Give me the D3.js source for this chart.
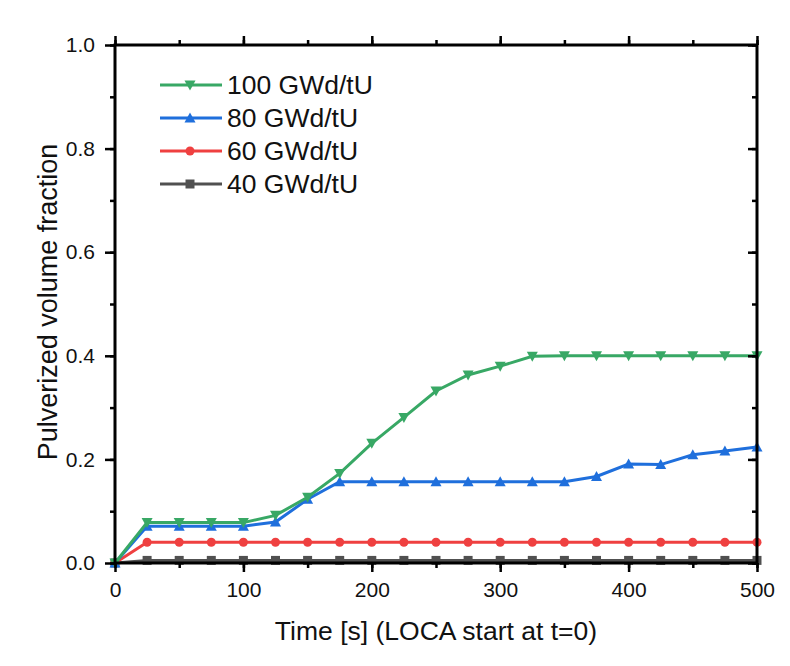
<!DOCTYPE html>
<html><head><meta charset="utf-8">
<script src="https://cdn.jsdelivr.net/npm/d3@7"></script>
<style>body{margin:0;background:#fff}svg text{font-family:"Liberation Sans",Arial,sans-serif;fill:#111}</style>
</head><body><svg id="c" width="790" height="666"></svg>
<script>
const times = [0,25,50,75,100,125,150,175,200,225,250,275,300,325,350,375,400,425,450,475,500];
const s100 = [0,0.078,0.078,0.078,0.078,0.092,0.127,0.173,0.231,0.281,0.332,0.363,0.380,0.399,0.400,0.400,0.400,0.400,0.400,0.400,0.400];
const s80  = [0,0.071,0.071,0.071,0.071,0.079,0.123,0.157,0.157,0.157,0.157,0.157,0.157,0.157,0.157,0.167,0.191,0.190,0.209,0.216,0.224];
const s60  = [0,0.040,0.040,0.040,0.040,0.040,0.040,0.040,0.040,0.040,0.040,0.040,0.040,0.040,0.040,0.040,0.040,0.040,0.040,0.040,0.040];
const s40  = [0,0.005,0.005,0.005,0.005,0.005,0.005,0.005,0.005,0.005,0.005,0.005,0.005,0.005,0.005,0.005,0.005,0.005,0.005,0.005,0.005];
const seriesNames = ["100 GWd/tU","80 GWd/tU","60 GWd/tU","40 GWd/tU"];
const xTicks = [0,100,200,300,400,500];
const yTicks = [0.0,0.2,0.4,0.6,0.8,1.0];

const series = [
  {name:seriesNames[0], vals:s100, color:"#38a865", sym:"down"},
  {name:seriesNames[1], vals:s80,  color:"#1f6fdc", sym:"up"},
  {name:seriesNames[2], vals:s60,  color:"#ef4040", sym:"circle"},
  {name:seriesNames[3], vals:s40,  color:"#505050", sym:"square"}
];
const L=115,R=757,T=45,B=563;
const svg=d3.select("#c");
const x=d3.scaleLinear().domain([0,500]).range([L,R]);
const y=d3.scaleLinear().domain([0,1]).range([B,T]);

function symPath(t){
  if(t==="down") return "M-5.5,-4.5L5.5,-4.5L0,5.5Z";
  if(t==="up") return "M-5.5,4.5L5.5,4.5L0,-5.5Z";
  if(t==="square") return "M-4.5,-4.5L4.5,-4.5L4.5,4.5L-4.5,4.5Z";
  return d3.symbol(d3.symbolCircle,64)();
}
[...series].reverse().forEach(s=>{
  const pts=times.map((t,i)=>[t,s.vals[i]]);
  svg.append("path").datum(pts).attr("fill","none").attr("stroke",s.color).attr("stroke-width",3)
    .attr("d",d3.line().x(d=>x(d[0])).y(d=>y(d[1])));
  svg.append("g").selectAll("path").data(pts).join("path")
    .attr("transform",d=>`translate(${x(d[0])},${y(d[1])})`).attr("d",symPath(s.sym)).attr("fill",s.color);
});

const minorX=d3.range(0,501,50), minorY=d3.range(0,1.0001,0.1);
svg.append("g").attr("transform",`translate(0,${B})`)
  .call(d3.axisBottom(x).tickValues(minorX).tickSize(5).tickFormat(""));
svg.append("g").attr("transform",`translate(0,${B})`)
  .call(d3.axisBottom(x).tickValues(xTicks).tickSize(9).tickPadding(10).tickFormat(d3.format("d")));
svg.append("g").attr("transform",`translate(0,${T})`)
  .call(d3.axisTop(x).tickValues(minorX).tickSize(5).tickFormat(""));
svg.append("g").attr("transform",`translate(0,${T})`)
  .call(d3.axisTop(x).tickValues(xTicks).tickSize(9).tickFormat(""));
svg.append("g").attr("transform",`translate(${L},0)`)
  .call(d3.axisLeft(y).tickValues(minorY).tickSize(5).tickFormat(""));
svg.append("g").attr("transform",`translate(${L},0)`)
  .call(d3.axisLeft(y).tickValues(yTicks).tickSize(10).tickPadding(10).tickFormat(d3.format(".1f")));
svg.append("g").attr("transform",`translate(${R},0)`)
  .call(d3.axisLeft(y).tickValues(minorY).tickSize(5).tickFormat(""));
svg.append("g").attr("transform",`translate(${R},0)`)
  .call(d3.axisLeft(y).tickValues(yTicks).tickSize(9).tickFormat(""));
svg.selectAll(".domain").remove();
svg.selectAll(".tick line").attr("stroke","#000").attr("stroke-width",2.5);
svg.selectAll(".tick text").attr("font-size",21).style("fill","#111");
svg.append("rect").attr("x",L).attr("y",T).attr("width",R-L).attr("height",B-T)
  .attr("fill","none").attr("stroke","#000").attr("stroke-width",3);

svg.append("text").attr("x",436).attr("y",640).attr("text-anchor","middle").attr("font-size",26.5)
  .text("Time [s] (LOCA start at t=0)");
svg.append("text").attr("transform",`translate(57,302) rotate(-90)`).attr("text-anchor","middle").attr("font-size",27)
  .text("Pulverized volume fraction");

const lg=svg.append("g");
series.forEach((s,i)=>{
  const yy=85+i*33;
  lg.append("line").attr("x1",160).attr("x2",222).attr("y1",yy).attr("y2",yy).attr("stroke",s.color).attr("stroke-width",3);
  lg.append("path").attr("transform",`translate(190,${yy})`).attr("d",symPath(s.sym)).attr("fill",s.color);
  lg.append("text").attr("x",227).attr("y",yy+8.5).attr("font-size",26.5).text(s.name);
});
</script></body></html>
